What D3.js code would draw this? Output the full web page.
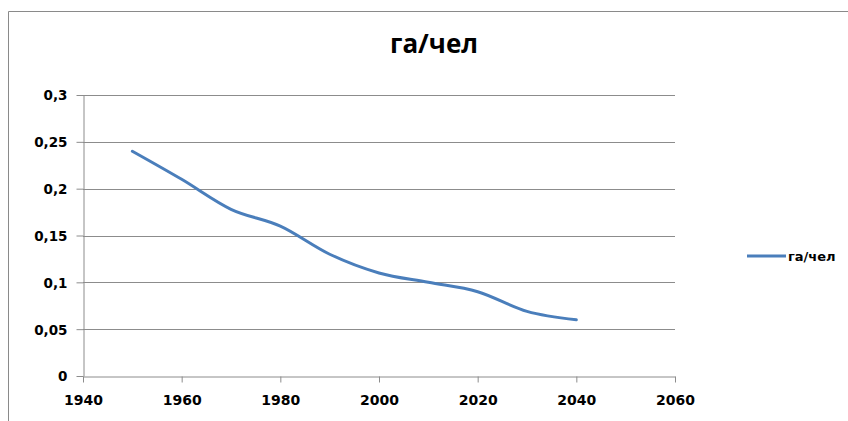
<!DOCTYPE html>
<html>
<head>
<meta charset="utf-8">
<script src="https://cdn.jsdelivr.net/npm/d3@7"></script>
<style>
  body { margin: 0; background: #fff; }
  svg { display: block; }
</style>
</head>
<body>
<svg id="chart" width="848" height="421"></svg>
<script>
const years = [1950, 1960, 1970, 1980, 1990, 2000, 2010, 2020, 2030, 2040];
const haPerPerson = [0.24, 0.21, 0.178, 0.16, 0.13, 0.11, 0.1, 0.09, 0.069, 0.06];
const xTicks = [1940, 1960, 1980, 2000, 2020, 2040, 2060];
const yTicks = [0, 0.05, 0.1, 0.15, 0.2, 0.25, 0.3];
const title = "га/чел";
const seriesName = "га/чел";

const svg = d3.select("#chart");
const lineColor = "#4a7ebb";
const gridColor = "#8c8c8c";
const labelFont = "DejaVu Sans, Verdana, sans-serif";

const ru = d3.formatLocale({ decimal: ",", thousands: " ", grouping: [3], currency: ["", ""] });
const yFmt = (d) => ru.format("~g")(d);

const x = d3.scaleLinear().domain([1940, 2060]).range([83, 675]);
const y = d3.scaleLinear().domain([0, 0.3]).range([376, 95]);

// chart area border (only left and top visible)
svg.append("line").attr("x1", 8.5).attr("x2", 8.5).attr("y1", 11.5).attr("y2", 421)
  .attr("stroke", "#8a8a8a").attr("stroke-width", 1);
svg.append("line").attr("x1", 8.5).attr("x2", 848).attr("y1", 11.5).attr("y2", 11.5)
  .attr("stroke", "#8a8a8a").attr("stroke-width", 1);

// horizontal gridlines
svg.append("g")
  .selectAll("line")
  .data(yTicks.filter((d) => d > 0))
  .enter()
  .append("line")
  .attr("x1", x(1940))
  .attr("x2", x(2060))
  .attr("y1", (d) => Math.round(y(d)) + 0.5)
  .attr("y2", (d) => Math.round(y(d)) + 0.5)
  .attr("stroke", gridColor)
  .attr("stroke-width", 1);

// y axis
const yAxis = svg.append("g")
  .attr("transform", `translate(${x(1940) + 0.5},0)`)
  .call(d3.axisLeft(y).tickValues(yTicks).tickFormat(yFmt).tickSizeInner(7).tickSizeOuter(0).tickPadding(9));

// x axis
const xAxis = svg.append("g")
  .attr("transform", `translate(0,${Math.round(y(0)) + 0.5})`)
  .call(d3.axisBottom(x).tickValues(xTicks).tickFormat(d3.format("d")).tickSizeInner(6).tickSizeOuter(0).tickPadding(13));

[yAxis, xAxis].forEach((ax) => {
  ax.select(".domain").attr("stroke", gridColor);
  ax.selectAll(".tick line").attr("stroke", gridColor);
  ax.selectAll("text")
    .attr("fill", "#000")
    .style("font-family", labelFont)
    .style("font-weight", "bold");
});
yAxis.selectAll("text").attr("dy", "0.36em").style("font-size", "13.5px");
xAxis.selectAll("text").style("font-size", "14px");

// series line
const line = d3.line()
  .x((d, i) => x(years[i]))
  .y((d) => y(d))
  .curve(d3.curveCatmullRom.alpha(0));

svg.append("path")
  .datum(haPerPerson)
  .attr("d", line)
  .attr("fill", "none")
  .attr("stroke", lineColor)
  .attr("stroke-width", 3)
  .attr("stroke-linecap", "round");

// title
svg.append("text")
  .attr("x", 434)
  .attr("y", 53)
  .attr("text-anchor", "middle")
  .style("font-family", "Open Sans, sans-serif")
  .style("font-weight", "bold")
  .style("font-size", "26px")
  .text(title);

// legend
const legend = svg.append("g").attr("transform", "translate(747,256)");
legend.append("line")
  .attr("x1", 0).attr("x2", 39).attr("y1", 0).attr("y2", 0)
  .attr("stroke", lineColor).attr("stroke-width", 3);
legend.append("text")
  .attr("x", 41)
  .attr("y", 0)
  .attr("dy", "0.35em")
  .style("font-family", labelFont)
  .style("font-weight", "bold")
  .style("font-size", "13px")
  .text(seriesName);
</script>
</body>
</html>
